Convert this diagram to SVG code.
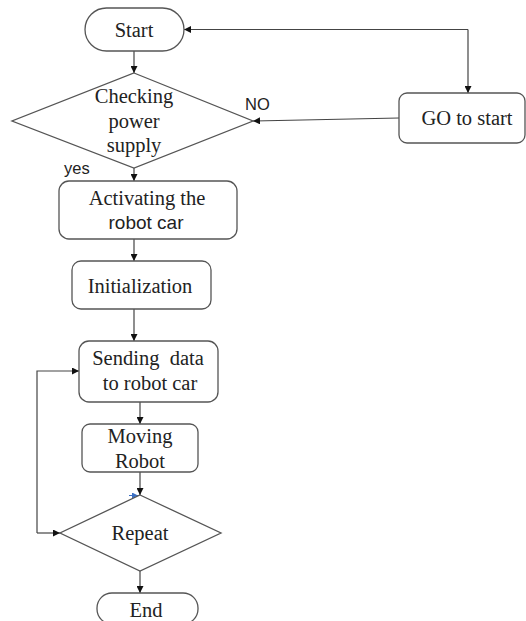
<svg xmlns="http://www.w3.org/2000/svg" width="526" height="621" viewBox="0 0 526 621">
<style>
.box{fill:#fff;stroke:#555;stroke-width:1.3}
.ln{fill:none;stroke:#444;stroke-width:1.2}
.t{font-family:"Liberation Serif",serif;font-size:20.5px;fill:#222;text-anchor:middle}
.s{font-family:"Liberation Sans",Arial,sans-serif;fill:#222}
</style>
<defs>
<marker id="ah" viewBox="0 0 10 10" refX="10" refY="5" markerWidth="7" markerHeight="7" orient="auto" markerUnits="userSpaceOnUse">
<path d="M0,0 L10,5 L0,10 z" fill="#111"/>
</marker>
<marker id="ab" viewBox="0 0 10 10" refX="10" refY="5" markerWidth="6" markerHeight="6" orient="auto" markerUnits="userSpaceOnUse">
<path d="M0,0 L10,5 L0,10 z" fill="#3a6fc4"/>
</marker>
</defs>
<g id="connectors">
<line class="ln" x1="134" y1="51" x2="134" y2="73" marker-end="url(#ah)"/>
<line class="ln" x1="134" y1="168" x2="134" y2="181" marker-end="url(#ah)"/>
<line class="ln" x1="134" y1="239" x2="134" y2="261" marker-end="url(#ah)"/>
<line class="ln" x1="134" y1="309" x2="134" y2="341" marker-end="url(#ah)"/>
<line class="ln" x1="140" y1="402" x2="140" y2="424" marker-end="url(#ah)"/>
<line class="ln" x1="140" y1="472" x2="140" y2="495" marker-end="url(#ah)"/>
<line class="ln" x1="140" y1="571" x2="140" y2="593" marker-end="url(#ah)"/>
<line class="ln" x1="399" y1="118" x2="253" y2="121" marker-end="url(#ah)"/>
<path class="ln" d="M468,29.5 H184" marker-end="url(#ah)"/>
<path class="ln" d="M468,29.5 V93" marker-end="url(#ah)"/>
<path class="ln" d="M37,533 V371 H79" marker-end="url(#ah)"/>
<path class="ln" d="M37,533 H60" marker-end="url(#ah)"/>
<line x1="129" y1="495.5" x2="138" y2="495.5" stroke="#3a6fc4" stroke-width="1" marker-end="url(#ab)"/>
</g>
<g id="start">
<rect class="box" x="85" y="8" width="99" height="43" rx="21.5"/>
<text class="t" x="134" y="37">Start</text>
</g>
<g id="check">
<polygon class="box" points="134,73 253,121 134,168 12,121"/>
<text class="t" x="134" y="103">Checking</text>
<text class="t" x="134" y="128">power</text>
<text class="t" x="134" y="152">supply</text>
</g>
<text class="s" x="245" y="110" font-size="16.5">NO</text>
<text class="s" x="64" y="174" font-size="16.5">yes</text>
<g id="goto">
<rect class="box" x="399" y="93" width="126" height="50" rx="8"/>
<text class="t" x="467" y="125">GO to start</text>
</g>
<g id="activate">
<rect class="box" x="59" y="181" width="178" height="58" rx="10"/>
<text class="t" x="147" y="205">Activating the</text>
<text class="s" x="146" y="229" font-size="19" text-anchor="middle">robot car</text>
</g>
<g id="init">
<rect class="box" x="72" y="261" width="139" height="48" rx="9"/>
<text class="t" x="140" y="293">Initialization</text>
</g>
<g id="send">
<rect class="box" x="79" y="341" width="139" height="61" rx="10"/>
<text class="t" x="148" y="365" xml:space="preserve">Sending  data</text>
<text class="t" x="150" y="390">to robot car</text>
</g>
<g id="moving">
<rect class="box" x="82" y="424" width="116" height="48" rx="8"/>
<text class="t" x="140" y="443">Moving</text>
<text class="t" x="140" y="468">Robot</text>
</g>
<g id="repeat">
<polygon class="box" points="140,495 221,533 140,571 60,533"/>
<text class="t" x="140" y="540">Repeat</text>
</g>
<g id="end">
<rect class="box" x="97" y="593" width="101" height="31" rx="15"/>
<text class="t" x="146" y="617">End</text>
</g>
</svg>
